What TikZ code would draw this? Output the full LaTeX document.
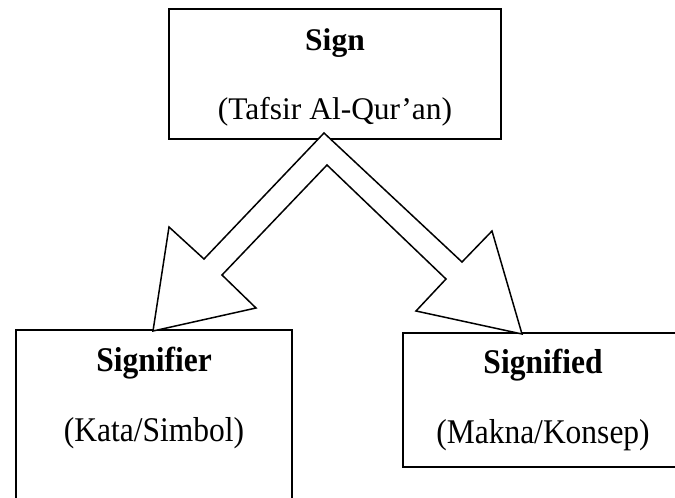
\documentclass[tikz,border=0pt]{standalone}
\usepackage{fontspec}
\usepackage{graphicx}
\setmainfont{Liberation Serif}
\newcommand{\tallbox}[1]{\scalebox{1}[1.1]{#1}}
\begin{document}
\begin{tikzpicture}[x=1pt,y=-1pt,
  box/.style={draw,line width=1.5pt,inner sep=0pt,outer sep=0pt},
  title/.style={font=\fontsize{31.5}{36}\selectfont\bfseries,anchor=base,inner sep=0pt},
  sub/.style={font=\fontsize{31.5}{36}\selectfont,anchor=base,inner sep=0pt},
  bigarrow/.style={draw,fill=white,line width=1.5pt,line join=miter}]
\clip (0,0) rectangle (675,498);
% boxes
\node[box,minimum width=332pt,minimum height=130pt] (sign) at (335,74) {};
\node[box,minimum width=276pt,minimum height=200pt] (signifier) at (154,430) {};
\node[box,minimum width=280pt,minimum height=134pt] (signified) at (543,400) {};
% texts
\node[title] (signT) at (335,50) {Sign};
\node[sub] (signS) at (335,119.5) {(Tafsir Al-Qur’an)};
\node[title] (signifierT) at (154,371) {\tallbox{Signifier}};
\node[sub] (signifierS) at (154,441) {\tallbox{(Kata/Simbol)}};
\node[title] (signifiedT) at (543,373) {\tallbox{Signified}};
\node[sub] (signifiedS) at (543,443) {\tallbox{(Makna/Konsep)}};
% bent double arrow
\draw[bigarrow] (324,133) -- (204,259) -- (169,227) -- (153,331) -- (256,308)
  -- (222,275) -- (327,165) -- (446,279) -- (416,311) -- (522,334)
  -- (492,231) -- (462,262) -- cycle;
\end{tikzpicture}
\end{document}
